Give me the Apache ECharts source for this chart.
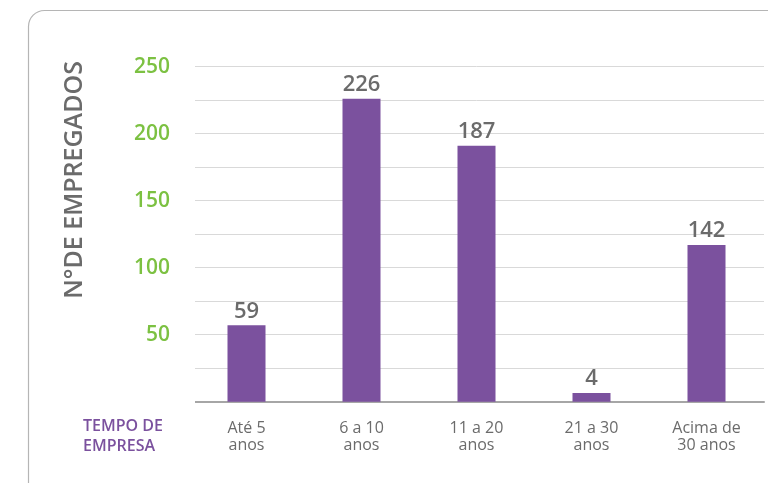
<!DOCTYPE html>
<html>
<head>
<meta charset="utf-8">
<script src="https://cdn.jsdelivr.net/npm/echarts@6/dist/echarts.min.js"></script>
<style>html,body{margin:0;padding:0;background:#fff;}#c{width:768px;height:483px;}</style>
</head>
<body>
<div id="c"></div>
<script>
var categories = ['Até 5\nanos', '6 a 10\nanos', '11 a 20\nanos', '21 a 30\nanos', 'Acima de\n30 anos'];
var barHeights = [57, 226, 191, 6.5, 117];
var valueLabels = ['59', '226', '187', '4', '142'];
var yTicks = [0, 25, 50, 75, 100, 125, 150, 175, 200, 225, 250];

var FONT = '"Open Sans", "Noto Sans", sans-serif';
var chart = echarts.init(document.getElementById('c'), null, {renderer: 'canvas'});
chart.setOption({
  animation: false,
  backgroundColor: '#ffffff',
  grid: {left: 189, right: 4, top: 66.7, bottom: 81.3, containLabel: false},
  xAxis: {
    type: 'category',
    data: categories,
    axisTick: {show: false},
    axisLine: {show: true, lineStyle: {color: '#a6a6a6', width: 2}},
    axisLabel: {color: '#6b6b6b', fontFamily: FONT, fontSize: 16, fontWeight: 500, lineHeight: 17, margin: 18, interval: 0}
  },
  yAxis: {
    type: 'value',
    min: yTicks[0],
    max: yTicks[yTicks.length - 1],
    interval: yTicks[1] - yTicks[0],
    axisLine: {show: false},
    axisTick: {show: false},
    splitLine: {lineStyle: {color: '#d9d9d9', width: 1}},
    axisLabel: {
      color: '#7cc142', fontFamily: FONT, fontSize: 21, fontWeight: 600, margin: 19,
      formatter: function (v) { return (v > 0 && v % 50 === 0) ? String(v) : ''; }
    }
  },
  series: [{
    type: 'bar',
    data: barHeights,
    barWidth: 38,
    itemStyle: {color: '#7b519e'},
    label: {
      show: true, position: 'top', distance: 3,
      color: '#6b6b6b', fontFamily: FONT, fontSize: 22, fontWeight: 600,
      formatter: function (p) { return valueLabels[p.dataIndex]; }
    }
  }],
  graphic: [
    {type: 'rect', z: 100, shape: {x: 28.5, y: 10.5, width: 900, height: 700, r: 16},
     style: {fill: 'none', stroke: '#b5b5b5', lineWidth: 1.2}},
    {type: 'rect', z: 90, shape: {x: 184, y: 55, width: 11, height: 352},
     style: {fill: '#ffffff'}},
    {type: 'text', z: 100, x: 75, y: 180, rotation: Math.PI / 2,
     style: {text: 'N°DE EMPREGADOS', fill: '#6b6b6b', font: '600 25px "Open Sans", sans-serif',
             align: 'center', verticalAlign: 'middle'}},
    {type: 'text', z: 100, x: 83, y: 436.5,
     style: {text: 'TEMPO DE\nEMPRESA', fill: '#7b519e', font: '600 16px "Open Sans", sans-serif',
             lineHeight: 20, align: 'left', verticalAlign: 'middle'}}
  ]
});
</script>
</body>
</html>
